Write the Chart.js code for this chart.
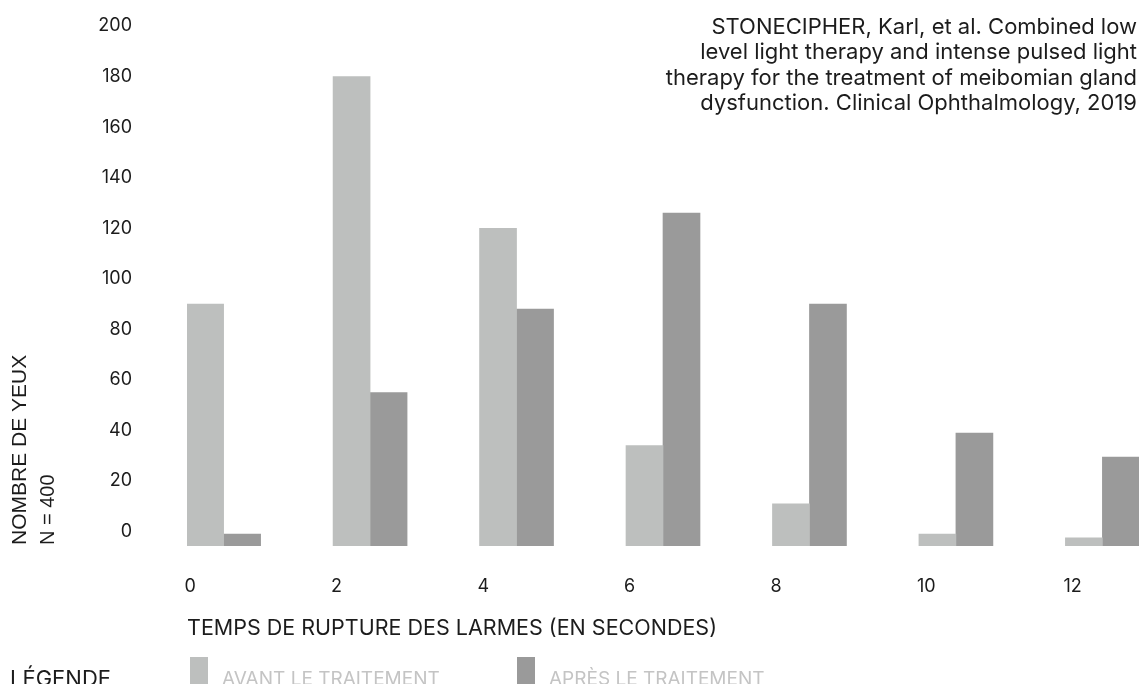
<!DOCTYPE html>
<html lang="fr">
<head>
<meta charset="utf-8">
<title>Temps de rupture des larmes</title>
<script src="https://cdn.jsdelivr.net/npm/chart.js@4/dist/chart.umd.min.js"></script>
<style>
  html, body { margin: 0; padding: 0; background: #fff; }
  #wrap { position: relative; width: 1142px; height: 684px; overflow: hidden; }
</style>
</head>
<body>
<div id="wrap"><canvas id="chart" width="1142" height="684"></canvas></div>
<script>
// Données
const categories = [0, 2, 4, 6, 8, 10, 12];
const avantTraitement = [90, 180, 120, 34, 11, -1, -2.5];
const apresTraitement = [-1, 55, 88, 126, 90, 39, 29.5];
const yTicks = [0, 20, 40, 60, 80, 100, 120, 140, 160, 180, 200];

const citation = [
    'STONECIPHER, Karl, et al. Combined low',
    'level light therapy and intense pulsed light',
    'therapy for the treatment of meibomian gland',
    'dysfunction. Clinical Ophthalmology, 2019'
];

// Couleurs
const LIGHT = '#bdbfbe';
const DARK = '#9a9a9a';
const TEXT = '#1c1c1c';
const LEGEND_TEXT = '#c4c4c4';
const FONT = 'Inter';

// les barres partent un peu sous le zéro
const Y_BASE = -5.7;

/**
 * Textes hors axes : titre vertical, citation, légende
 */
const annotations = {
    id: 'annotations',
    afterDraw(chart) {
        const { ctx } = chart;
        ctx.save();

        // citation en haut à droite
        ctx.fillStyle = TEXT;
        ctx.font = '22px ' + FONT;
        ctx.textAlign = 'right';
        ctx.textBaseline = 'middle';
        citation.forEach((line, i) => ctx.fillText(line, 1137, 27 + i * 25.5));

        // titre de l'axe Y (vertical)
        ctx.textAlign = 'left';
        ctx.save();
        ctx.translate(20, 545);
        ctx.rotate(-Math.PI / 2);
        ctx.font = '21px "Liberation Sans"';
        ctx.fillText('NOMBRE DE YEUX', 0, 0);
        ctx.restore();
        ctx.save();
        ctx.translate(48, 545);
        ctx.rotate(-Math.PI / 2);
        ctx.font = '20px "Liberation Sans"';
        ctx.fillText('N = 400', 0, 0);
        ctx.restore();

        // légende
        ctx.textBaseline = 'alphabetic';
        ctx.font = '22px ' + FONT;
        ctx.fillStyle = TEXT;
        ctx.fillText('LÉGENDE', 10, 686);
        ctx.font = '19px ' + FONT;
        const xs = [190, 517];
        chart.data.datasets.forEach((ds, i) => {
            ctx.fillStyle = ds.backgroundColor;
            ctx.fillRect(xs[i], 657, 18, 40);
            ctx.fillStyle = LEGEND_TEXT;
            ctx.fillText(ds.label, xs[i] + 32, 685);
        });

        ctx.restore();
    }
};

const toPoints = (values) => categories.map((c, i) => ({ x: c, y: values[i] }));

new Chart(document.getElementById('chart').getContext('2d'), {
    type: 'bar',
    data: {
        datasets: [
            {
                label: 'AVANT LE TRAITEMENT',
                data: toPoints(avantTraitement),
                backgroundColor: LIGHT
            },
            {
                label: 'APRÈS LE TRAITEMENT',
                data: toPoints(apresTraitement),
                backgroundColor: DARK
            }
        ]
    },
    options: {
        responsive: false,
        animation: false,
        devicePixelRatio: 1,
        layout: {
            autoPadding: false,
            padding: { top: 26, left: 97, right: 3, bottom: 43 }
        },
        datasets: {
            bar: { barThickness: 37, base: Y_BASE, borderWidth: 0 }
        },
        plugins: {
            legend: { display: false },
            tooltip: { enabled: false }
        },
        scales: {
            x: {
                type: 'linear',
                offset: false,
                min: -0.5,
                max: 12.5,
                grid: { display: false, drawTicks: false, offset: false },
                border: { display: false },
                afterBuildTicks: (scale) => {
                    scale.ticks = categories.map(v => ({ value: v }));
                },
                // hauteur fixe : ticks + titre
                afterFit: (scale) => {
                    scale.height = 95;
                    scale.paddingLeft = 0;
                    scale.paddingRight = 0;
                },
                ticks: {
                    font: { family: FONT, size: 18 },
                    color: TEXT,
                    padding: 30,
                    align: 'start',
                    labelOffset: -39,
                    maxRotation: 0,
                    autoSkip: false
                },
                title: {
                    display: true,
                    text: 'TEMPS DE RUPTURE DES LARMES (EN SECONDES)',
                    align: 'start',
                    color: TEXT,
                    font: { family: FONT, size: 21.5 },
                    padding: { top: 18, bottom: 0 }
                }
            },
            y: {
                min: Y_BASE,
                max: 200,
                grid: { display: false, drawTicks: false },
                border: { display: false },
                afterBuildTicks: (scale) => {
                    scale.ticks = yTicks.map(v => ({ value: v }));
                },
                afterFit: (scale) => {
                    scale.width = 90;
                    scale.paddingTop = 0;
                    scale.paddingBottom = 0;
                },
                ticks: {
                    font: { family: FONT, size: 18 },
                    color: TEXT,
                    padding: 55
                }
            }
        }
    },
    plugins: [annotations]
});
</script>
</body>
</html>
